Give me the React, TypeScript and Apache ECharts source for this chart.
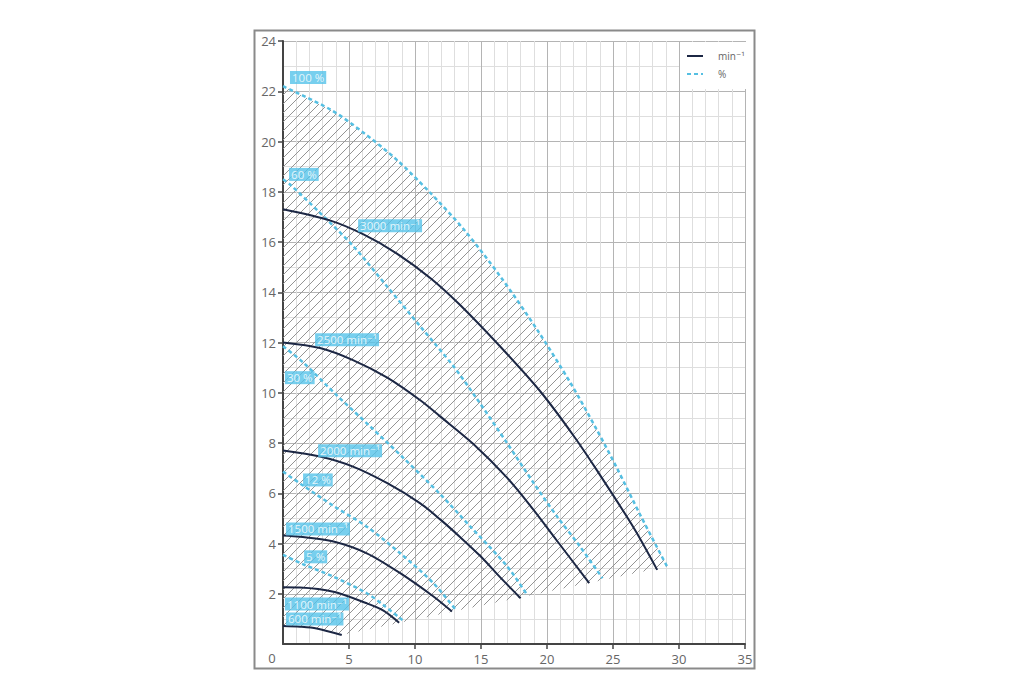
import React, { useEffect, useRef } from "react";
import * as echarts from "echarts";

// ---- data (x: flow, y: head) ----
const curve3000 = [[0, 17.3], [3.6, 16.85], [6.1, 16.3], [8.6, 15.55], [11.2, 14.55], [13.4, 13.5], [16.7, 11.7], [19.5, 10.05], [22.0, 8.3], [23.8, 6.9], [26.6, 4.6], [28.35, 2.95]];
const curve2500 = [[0, 12.0], [2.8, 11.78], [5.3, 11.3], [7.9, 10.6], [10.4, 9.7], [11.9, 9.06], [14.44, 7.95], [16.97, 6.62], [18.74, 5.5], [20.77, 4.1], [23.2, 2.42]];
const curve2000 = [[0, 7.7], [2.8, 7.46], [5.3, 7.06], [7.9, 6.4], [10.4, 5.6], [11.93, 4.95], [13.43, 4.25], [14.95, 3.5], [16.46, 2.65], [18.0, 1.82]];
const curve1500 = [[0, 4.32], [1.29, 4.27], [3.82, 4.08], [6.35, 3.61], [8.88, 2.82], [11.4, 1.89], [12.8, 1.29]];
const curve1100 = [[0, 2.26], [1.29, 2.25], [3.82, 2.08], [6.35, 1.62], [7.61, 1.33], [8.8, 0.85]];
const curve600 = [[0, 0.72], [1.3, 0.69], [2.55, 0.62], [4.45, 0.36]];

const pct100 = [[0, 22.2], [3.6, 21.27], [6.1, 20.35], [8.6, 19.28], [11.15, 17.96], [13.7, 16.5], [16.5, 14.6], [19.25, 12.51], [21.78, 10.39], [23.8, 8.5], [25.3, 7.0], [27.1, 5.1], [29.1, 3.08]];
const pct60 = [[0, 18.5], [0.53, 18.29], [2.8, 17.16], [5.33, 15.83], [7.87, 14.24], [10.4, 12.64], [12.92, 11.05], [14.7, 9.75], [16.97, 8.0], [19.0, 6.4], [20.77, 5.07], [22.5, 3.88], [24.2, 2.62]];
const pct30 = [[0, 11.85], [1.54, 11.2], [4.07, 9.9], [6.6, 8.66], [9.13, 7.4], [11.93, 5.95], [14.2, 4.67], [16.97, 3.1], [18.5, 1.95]];
const pct12 = [[0, 6.86], [1.4, 6.35], [3.9, 5.47], [6.35, 4.67], [8.88, 3.61], [11.4, 2.42], [13.1, 1.35]];
const pct5 = [[0, 3.55], [1.5, 3.18], [3.82, 2.68], [6.35, 2.02], [7.61, 1.55], [9.05, 0.95]];

const speedCurves = [curve3000, curve2500, curve2000, curve1500, curve1100, curve600];
const pctCurves = [pct100, pct60, pct30, pct12, pct5];

const speedName = "min⁻¹";
const pctName = "%";

const labelTexts = ["100 %", "60 %", "3000 min⁻¹", "2500 min⁻¹", "30 %", "2000 min⁻¹", "12 %", "1500 min⁻¹", "5 %", "1100 min⁻¹", "600 min⁻¹"];
const labelAnchors = [[0.53, 22.55], [0.46, 18.69], [5.69, 16.65], [2.43, 12.11], [0.15, 10.6], [2.66, 7.69], [1.52, 6.53], [0.23, 4.58], [1.6, 3.47], [0.15, 1.59], [0.23, 1.0]];

const NAVY = "#1c2744";
const CYAN = "#55bfe2";
const LABEL_BG = "#55c3ea";
const FONT = "'Open Sans', 'DejaVu Sans', sans-serif";

function makeHatch() {
  const s = 9;
  const c = document.createElement("canvas");
  c.width = s;
  c.height = s;
  const g = c.getContext("2d")!;
  g.strokeStyle = "#949494";
  g.lineWidth = 1;
  g.beginPath();
  g.moveTo(0, s);
  g.lineTo(s, 0);
  g.moveTo(-1, 1);
  g.lineTo(1, -1);
  g.moveTo(s - 1, s + 1);
  g.lineTo(s + 1, s - 1);
  g.stroke();
  return { image: c.toDataURL(), repeat: "repeat", imageWidth: s, imageHeight: s };
}

export default function App() {
  const ref = useRef<HTMLDivElement>(null);
  useEffect(() => {
    const chart = echarts.init(ref.current!, null, { renderer: "svg" });
    const hatch = makeHatch();

    const series: any[] = [];
    series.push({
      type: "custom",
      name: "area",
      z: 1,
      silent: true,
      data: [[0, 0]],
      renderItem: (_p: any, api: any) => {
        const pts: number[][] = [];
        pts.push(api.coord([0, curve600[0][1]]));
        pct100.forEach((p) => pts.push(api.coord(p)));
        for (let i = curve600.length - 1; i >= 0; i--) pts.push(api.coord(curve600[i]));
        return {
          type: "polygon",
          shape: { points: pts },
          style: { fill: hatch as any, stroke: null },
        };
      },
    });
    speedCurves.forEach((d) => {
      series.push({
        type: "line",
        name: speedName,
        data: d,
        smooth: 0.3,
        symbol: "none",
        z: 3,
        lineStyle: { color: NAVY, width: 2 },
        itemStyle: { color: NAVY },
      });
    });
    pctCurves.forEach((d) => {
      series.push({
        type: "line",
        name: pctName,
        data: d,
        smooth: 0.3,
        symbol: "none",
        z: 2,
        lineStyle: { color: CYAN, width: 2.5, type: [4, 3] },
        itemStyle: { color: CYAN },
      });
    });
    series.push({
      type: "scatter",
      name: "labels",
      z: 6,
      symbolSize: 0,
      silent: true,
      data: labelTexts.map((t, i) => ({ name: t, value: labelAnchors[i] })),
      label: {
        show: true,
        position: "right",
        distance: 0,
        formatter: (p: any) => p.name,
        color: "#ffffff",
        backgroundColor: LABEL_BG,
        padding: [1, 2, 0, 2],
        fontSize: 11.5,
        fontFamily: FONT,
      },
    });

    chart.setOption({
      animation: false,
      backgroundColor: "#ffffff",
      grid: { left: 283, top: 41, width: 462, height: 603, containLabel: false },
      legend: {
        data: [speedName, pctName],
        orient: "vertical",
        left: 680,
        top: 42,
        padding: [9, 3, 10, 6],
        itemWidth: 16,
        itemHeight: 10,
        itemGap: 8,
        backgroundColor: "#ffffff",
        selectedMode: false,
        itemStyle: { opacity: 0 },
        textStyle: { fontSize: 10, color: "#666", fontFamily: FONT, padding: [0, 0, 0, 10] },
      },
      xAxis: {
        type: "value",
        min: 0,
        max: 35,
        interval: 5,
        axisLine: { show: true, onZero: false, lineStyle: { color: "#444", width: 2 } },
        axisTick: { show: true, length: 5, lineStyle: { color: "#444", width: 1.5 } },
        axisLabel: { color: "#666", fontSize: 13, margin: 8, showMinLabel: false, fontFamily: FONT },
        splitLine: { show: true, lineStyle: { color: "#b4b4b4", width: 1 } },
        minorTick: { show: false, splitNumber: 5 },
        minorSplitLine: { show: true, lineStyle: { color: "#dedede", width: 1 } },
      },
      yAxis: {
        type: "value",
        min: 0,
        max: 24,
        interval: 2,
        axisLine: { show: true, onZero: false, lineStyle: { color: "#444", width: 2 } },
        axisTick: { show: true, length: 5, lineStyle: { color: "#444", width: 1.5 } },
        axisLabel: { color: "#666", fontSize: 13, margin: 7, showMinLabel: false, fontFamily: FONT },
        splitLine: { show: true, lineStyle: { color: "#b4b4b4", width: 1 } },
        minorTick: { show: false, splitNumber: 2 },
        minorSplitLine: { show: true, lineStyle: { color: "#dedede", width: 1 } },
      },
      graphic: [
        {
          type: "rect",
          z: 100,
          shape: { x: 254.5, y: 30.5, width: 500, height: 638 },
          style: { fill: null, stroke: "#8a8a8a", lineWidth: 2 },
          silent: true,
        },
        {
          type: "text",
          x: 272,
          y: 658,
          style: { text: "0", fill: "#666", fontSize: 13, fontFamily: FONT, textAlign: "center", textVerticalAlign: "middle" },
        },
      ],
      series,
    });
    return () => chart.dispose();
  }, []);
  return (
    <div
      ref={ref}
      style={{ position: "absolute", left: 0, top: 0, width: 1035, height: 700, background: "#fff" }}
    />
  );
}
